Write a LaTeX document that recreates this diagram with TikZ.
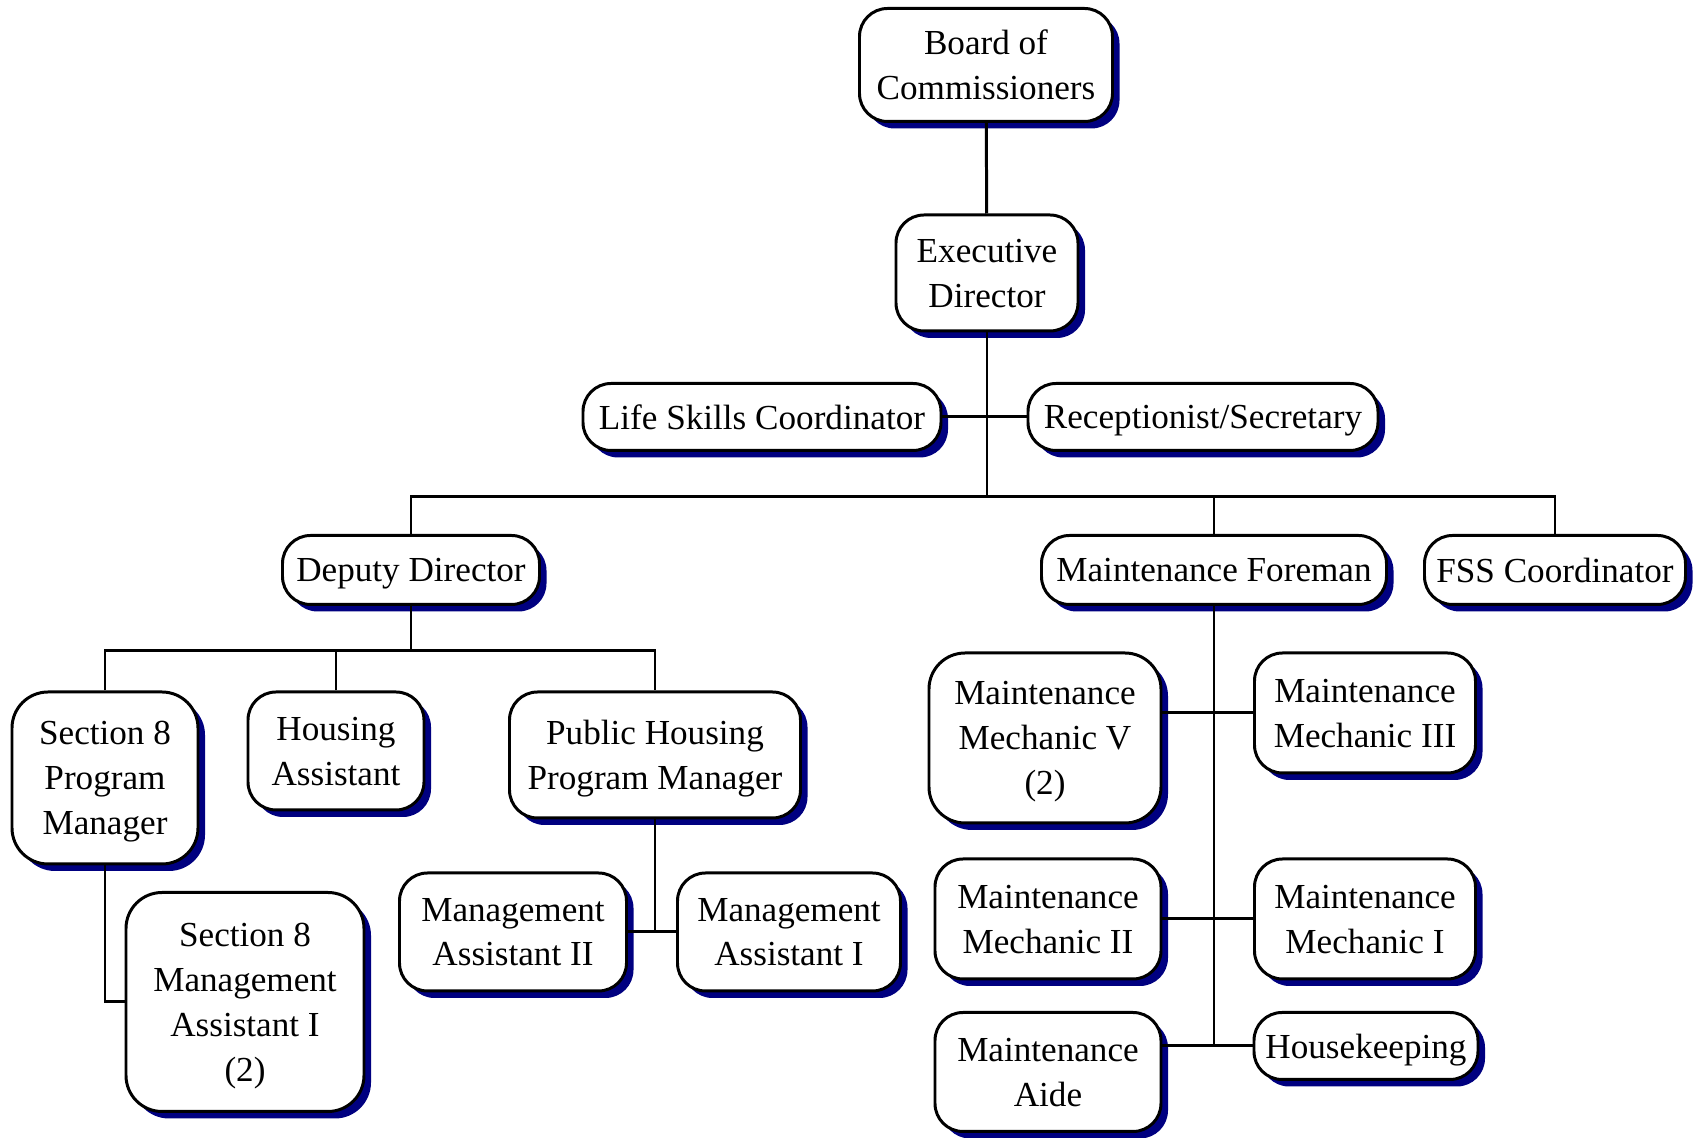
\documentclass[tikz,border=0pt]{standalone}
\usepackage{fontspec}
\setmainfont{Liberation Serif}
\usetikzlibrary{shadows}
\definecolor{shadownavy}{RGB}{0,0,128}
\tikzset{
  post/.style={rectangle,rounded corners=0.28cm,draw=black,fill=white,line width=0.85pt,
    align=center,inner sep=2pt,text depth=0pt,font=\fontsize{10}{12.8}\selectfont,
    drop shadow={shadow xshift=0.07cm,shadow yshift=-0.07cm,fill=shadownavy,opacity=1}},
  bigpost/.style={post,rounded corners=0.36cm},
  link/.style={line width=0.85pt}
}
\begin{document}
\begin{tikzpicture}
\useasboundingbox (0,0) rectangle (16.93,-11.38);
\node[post,minimum width=2.53cm,minimum height=1.13cm] (board) at (9.86,-0.65) {Board of\\Commissioners};
\node[post,minimum width=1.82cm,minimum height=1.16cm] (exec) at (9.87,-2.73) {Executive\\Director};
\node[post,minimum width=3.58cm,minimum height=0.67cm] (life) at (7.62,-4.17) {Life Skills Coordinator};
\node[post,minimum width=3.50cm,minimum height=0.67cm] (recep) at (12.03,-4.17) {Receptionist/Secretary};
\node[post,minimum width=2.57cm,minimum height=0.69cm] (deputy) at (4.11,-5.70) {Deputy Director};
\node[post,minimum width=3.45cm,minimum height=0.69cm] (foreman) at (12.14,-5.70) {Maintenance Foreman};
\node[post,minimum width=2.61cm,minimum height=0.69cm] (fss) at (15.55,-5.70) {FSS Coordinator};
\node[bigpost,minimum width=1.86cm,minimum height=1.72cm] (s8pm) at (1.05,-7.78) {Section 8\\Program\\Manager};
\node[post,minimum width=1.76cm,minimum height=1.18cm] (ha) at (3.36,-7.51) {Housing\\Assistant};
\node[post,minimum width=2.91cm,minimum height=1.26cm] (phpm) at (6.55,-7.55) {Public Housing\\Program Manager};
\node[bigpost,minimum width=2.38cm,minimum height=2.19cm] (s8ma) at (2.45,-10.02) {Section 8\\Management\\Assistant I\\(2)};
\node[post,minimum width=2.27cm,minimum height=1.18cm] (ma2) at (5.13,-9.32) {Management\\Assistant II};
\node[post,minimum width=2.23cm,minimum height=1.18cm] (ma1) at (7.89,-9.32) {Management\\Assistant I};
\node[bigpost,minimum width=2.32cm,minimum height=1.70cm] (mm5) at (10.45,-7.38) {Maintenance\\Mechanic V\\(2)};
\node[post,minimum width=2.21cm,minimum height=1.20cm] (mm3) at (13.65,-7.13) {Maintenance\\Mechanic III};
\node[post,minimum width=2.26cm,minimum height=1.20cm] (mm2) at (10.48,-9.19) {Maintenance\\Mechanic II};
\node[post,minimum width=2.21cm,minimum height=1.20cm] (mm1) at (13.65,-9.19) {Maintenance\\Mechanic I};
\node[post,minimum width=2.26cm,minimum height=1.19cm] (aide) at (10.48,-10.72) {Maintenance\\Aide};
\node[post,minimum width=2.24cm,minimum height=0.67cm] (hk) at (13.66,-10.46) {Housekeeping};

\coordinate (bar) at (9.87,-4.97);
\coordinate (dbar) at (4.11,-6.51);

\path [link] (board) edge (exec);
\path [link] (life) edge (recep);
\draw [link] (exec.south) -- (bar);
\draw [link] (deputy.north) |- (fss.north |- bar) -- (fss.north);
\draw [link] (foreman.north) -- (foreman.north |- bar);
\draw [link] (deputy.south) -- (dbar);
\draw [link] (s8pm.north) |- (phpm.north |- dbar) -- (phpm.north);
\draw [link] (ha.north) -- (ha.north |- dbar);
\draw [link] (s8pm.south) |- (s8ma.west);
\draw [link] (phpm.south) -- (phpm.south |- ma1.west);
\path [link] (ma2) edge (ma1);
\draw [link] (foreman.south) |- (hk.west);
\draw [link] (mm5.east |- mm3.west) -- (mm3.west);
\path [link] (mm2) edge (mm1);
\draw [link] (aide.east |- hk.west) -- (hk.west);
\end{tikzpicture}
\end{document}
